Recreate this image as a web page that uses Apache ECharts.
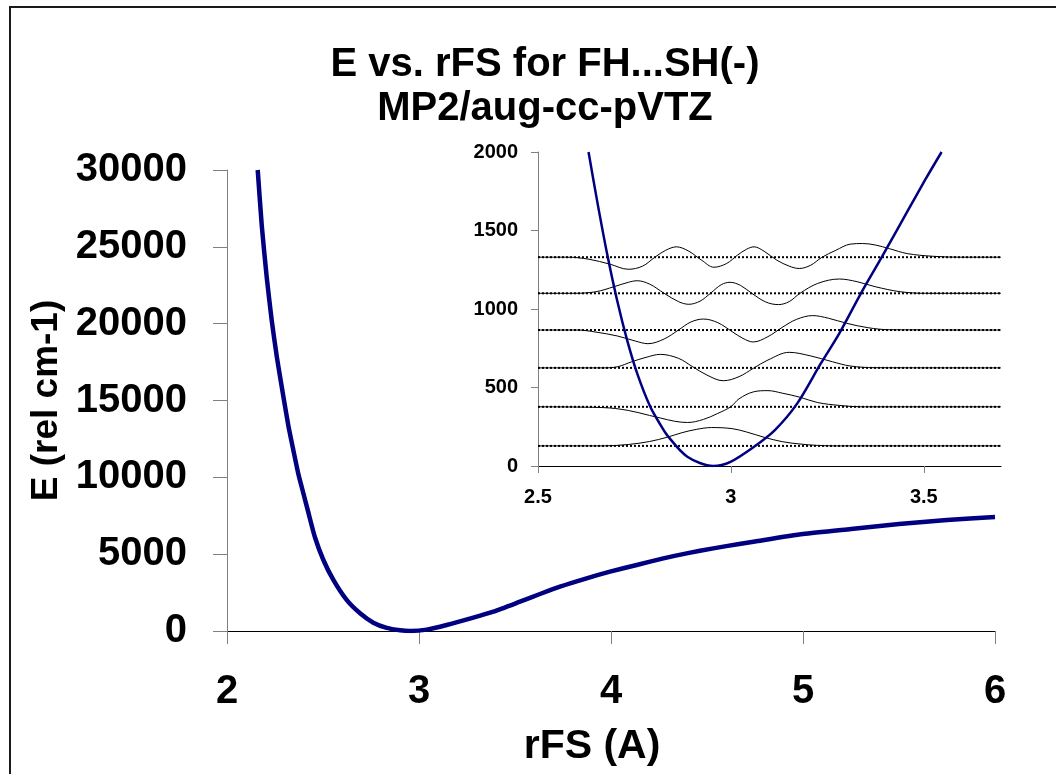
<!DOCTYPE html>
<html>
<head>
<meta charset="utf-8">
<title>E vs. rFS for FH...SH(-)</title>
<script src="https://cdn.jsdelivr.net/npm/echarts@6/dist/echarts.min.js"></script>
<style>
  html, body { margin: 0; padding: 0; background: #fff; }
  #chart { width: 1056px; height: 774px; }
</style>
</head>
<body>
<div id="chart"></div>
<script>
// Potential energy scan, rFS in Angstrom, E in cm-1 relative to the minimum
const scanR = [2.160, 2.181, 2.207, 2.233, 2.260, 2.293, 2.319, 2.345, 2.372, 2.398, 2.424, 2.458, 2.502, 2.554, 2.623, 2.693, 2.762, 2.832, 2.901, 2.955, 3.040, 3.144, 3.283, 3.387, 3.526, 3.630, 3.734, 3.873, 3.995, 4.134, 4.273, 4.394, 4.533, 4.668, 4.750, 5.000, 5.250, 5.500, 5.750, 6.000];
const scanE = [30000, 26400, 23000, 20200, 17800, 15300, 13400, 11800, 10200, 8950, 7700, 6100, 4620, 3320, 2020, 1150, 540, 200, 45, 0, 90, 390, 868, 1258, 1909, 2408, 2885, 3427, 3861, 4295, 4728, 5054, 5379, 5661, 5830, 6310, 6640, 6960, 7220, 7420];

// Fitted potential near the well bottom (inset)
const wellR = [2.631, 2.653, 2.679, 2.705, 2.731, 2.757, 2.791, 2.817, 2.835, 2.887, 2.954, 2.999, 3.060, 3.114, 3.172, 3.233, 3.281, 3.337, 3.392, 3.457, 3.504, 3.546];
const wellE = [2000, 1692, 1353, 1056, 802, 590, 377, 264, 195, 59, 0, 27, 123, 229, 399, 653, 845, 1100, 1335, 1620, 1825, 2000];

// Vibrational levels (cm-1)
const levels = [128, 377, 625, 866, 1100, 1330];

// Vibrational wavefunctions, drawn offset by their level energy
const psi0R = [2.5, 2.669, 2.734, 2.789, 2.836, 2.873, 2.910, 2.950, 3.003, 3.040, 3.086, 3.133, 3.179, 3.225, 3.272, 3.7];
const psi0E = [128, 128, 137, 156, 184, 212, 233, 245, 238, 217, 183, 155, 140, 131, 128, 128];

const psi1R = [2.5, 2.669, 2.734, 2.789, 2.817, 2.854, 2.888, 2.929, 2.966, 3.000, 3.021, 3.058, 3.096, 3.133, 3.179, 3.225, 3.281, 3.337, 3.7];
const psi1E = [377, 372, 354, 322, 306, 285, 277, 297, 335, 378, 428, 472, 480, 464, 438, 404, 386, 377, 377];

const psi2R = [2.5, 2.669, 2.706, 2.743, 2.780, 2.817, 2.864, 2.901, 2.938, 2.980, 3.021, 3.058, 3.096, 3.151, 3.207, 3.263, 3.309, 3.374, 3.7];
const psi2E = [625, 625, 632, 664, 692, 711, 686, 632, 579, 543, 569, 622, 675, 724, 701, 664, 637, 626, 625];

const psi3R = [2.5, 2.604, 2.650, 2.706, 2.752, 2.785, 2.827, 2.864, 2.896, 2.929, 2.966, 3.003, 3.031, 3.058, 3.096, 3.133, 3.170, 3.212, 3.253, 3.300, 3.355, 3.411, 3.7];
const psi3E = [866, 866, 853, 828, 796, 779, 809, 866, 917, 936, 913, 856, 813, 790, 824, 883, 934, 958, 941, 909, 881, 868, 866];

const psi4R = [2.5, 2.595, 2.650, 2.697, 2.734, 2.757, 2.789, 2.827, 2.864, 2.891, 2.920, 2.947, 2.975, 2.998, 3.025, 3.054, 3.090, 3.123, 3.151, 3.179, 3.225, 3.281, 3.327, 3.374, 3.439, 3.504, 3.7];
const psi4E = [1100, 1100, 1110, 1142, 1170, 1180, 1159, 1100, 1047, 1030, 1050, 1100, 1155, 1170, 1150, 1100, 1045, 1028, 1047, 1100, 1163, 1191, 1174, 1142, 1110, 1100, 1100];

const psi5R = [2.5, 2.576, 2.632, 2.687, 2.734, 2.771, 2.803, 2.831, 2.859, 2.891, 2.924, 2.956, 2.989, 3.017, 3.040, 3.060, 3.086, 3.119, 3.151, 3.177, 3.207, 3.235, 3.272, 3.309, 3.341, 3.374, 3.411, 3.457, 3.522, 3.596, 3.7];
const psi5E = [1330, 1330, 1317, 1285, 1253, 1273, 1330, 1374, 1396, 1368, 1311, 1266, 1290, 1343, 1380, 1396, 1368, 1311, 1273, 1258, 1279, 1328, 1374, 1413, 1417, 1408, 1384, 1353, 1336, 1330, 1330];

// Axis ticks
const mainXTicks = [2, 3, 4, 5, 6];
const mainYTicks = [0, 5000, 10000, 15000, 20000, 25000, 30000];
const insetXTicks = [2.5, 3, 3.5];
const insetXMax = 3.7;
const insetYTicks = [0, 500, 1000, 1500, 2000];

const FONT = '"Liberation Sans", Arial, sans-serif';
const NAVY = '#000080';
const GRAY = '#808080';

const zip = (xs, ys) => xs.map((x, i) => [x, ys[i]]);
const plain = (v) => String(v);

const waves = [[psi0R, psi0E], [psi1R, psi1E], [psi2R, psi2E], [psi3R, psi3E], [psi4R, psi4E], [psi5R, psi5E]];

const series = [];

series.push({
  name: 'scan',
  type: 'line',
  xAxisIndex: 0, yAxisIndex: 0,
  data: zip(scanR, scanE),
  symbol: 'none',
  smooth: 0.2,
  lineStyle: { color: NAVY, width: 4.5, join: 'round' },
  z: 3
});

levels.forEach((lv, i) => {
  series.push({
    name: 'level' + i,
    type: 'line',
    xAxisIndex: 1, yAxisIndex: 1,
    data: [[insetXTicks[0], lv], [insetXMax, lv]],
    symbol: 'none',
    lineStyle: { color: '#000', width: 2, type: [2, 2] },
    z: 4
  });
});

waves.forEach(([rs, es], i) => {
  series.push({
    name: 'psi' + i,
    type: 'line',
    xAxisIndex: 1, yAxisIndex: 1,
    data: zip(rs, es),
    symbol: 'none',
    smooth: 0.35,
    lineStyle: { color: '#000', width: 1 },
    z: 5
  });
});

series.push({
  name: 'well',
  type: 'line',
  xAxisIndex: 1, yAxisIndex: 1,
  data: zip(wellR, wellE),
  symbol: 'none',
  smooth: 0.3,
  lineStyle: { color: NAVY, width: 2.5 },
  z: 6
});

const option = {
  animation: false,
  backgroundColor: '#fff',
  title: {
    text: 'E vs. rFS for FH...SH(-)\nMP2/aug-cc-pVTZ',
    left: 540,
    top: 38,
    textAlign: 'center',
    textStyle: { fontFamily: FONT, fontSize: 40, fontWeight: 'bold', color: '#000', lineHeight: 44 }
  },
  graphic: [{
    type: 'rect',
    silent: true,
    shape: { x: 10, y: 7, width: 1200, height: 900 },
    style: { fill: 'none', stroke: '#1a1a1a', lineWidth: 2 }
  }],
  grid: [
    { left: 227, top: 170, width: 768, height: 461, containLabel: false },
    { left: 538, top: 152, width: 463, height: 314, containLabel: false }
  ],
  xAxis: [
    {
      type: 'value', gridIndex: 0,
      min: mainXTicks[0], max: mainXTicks[mainXTicks.length - 1], interval: 1,
      axisLine: { show: true, onZero: false, lineStyle: { color: '#000', width: 1 } },
      axisTick: { show: true, length: 13, lineStyle: { color: GRAY } },
      axisLabel: { fontFamily: FONT, fontSize: 40, fontWeight: 'bold', color: '#000', margin: 41, formatter: plain },
      splitLine: { show: false },
      name: 'rFS (A)', nameLocation: 'middle', nameGap: 95,
      nameTextStyle: { fontFamily: FONT, fontSize: 41, fontWeight: 'bold', color: '#000', padding: [0, 38, 0, 0] }
    },
    {
      type: 'value', gridIndex: 1,
      min: insetXTicks[0], max: insetXMax, interval: 0.5,
      axisLine: { show: true, onZero: false, lineStyle: { color: '#000', width: 1 } },
      axisTick: { show: true, length: 7, lineStyle: { color: GRAY }, customValues: insetXTicks },
      axisLabel: { fontFamily: FONT, fontSize: 20, fontWeight: 'bold', color: '#000', margin: 21, customValues: insetXTicks, formatter: plain },
      splitLine: { show: false }
    }
  ],
  yAxis: [
    {
      type: 'value', gridIndex: 0,
      min: mainYTicks[0], max: mainYTicks[mainYTicks.length - 1], interval: 5000,
      axisLine: { show: true, onZero: false, lineStyle: { color: GRAY, width: 1 } },
      axisTick: { show: true, length: 14, lineStyle: { color: GRAY } },
      axisLabel: { fontFamily: FONT, fontSize: 40, fontWeight: 'bold', color: '#000', margin: 40, formatter: plain },
      splitLine: { show: false },
      name: 'E (rel cm-1)', nameLocation: 'middle', nameGap: 152, nameRotate: 90,
      nameTextStyle: { fontFamily: FONT, fontSize: 37, fontWeight: 'bold', color: '#000' }
    },
    {
      type: 'value', gridIndex: 1,
      min: insetYTicks[0], max: insetYTicks[insetYTicks.length - 1], interval: 500,
      axisLine: { show: true, onZero: false, lineStyle: { color: GRAY, width: 1 } },
      axisTick: { show: true, length: 7, lineStyle: { color: GRAY } },
      axisLabel: { fontFamily: FONT, fontSize: 20, fontWeight: 'bold', color: '#000', margin: 20, formatter: plain },
      splitLine: { show: false }
    }
  ],
  series: series
};

const chart = echarts.init(document.getElementById('chart'), null, { renderer: 'canvas' });
chart.setOption(option);
</script>
</body>
</html>
